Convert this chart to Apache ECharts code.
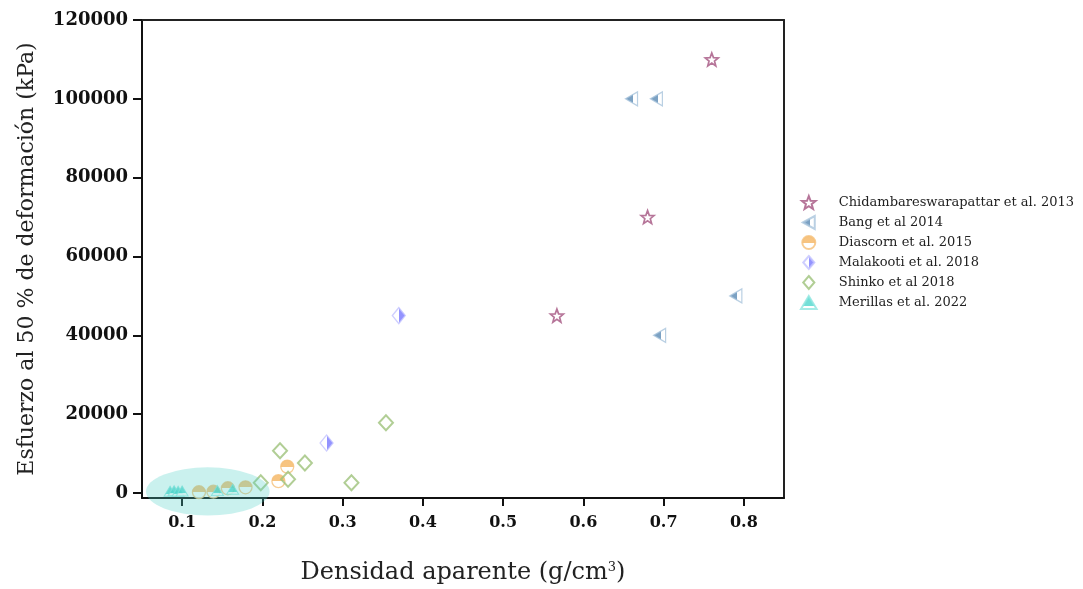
<!DOCTYPE html>
<html><head><meta charset="utf-8">
<script src="https://cdn.jsdelivr.net/npm/echarts@6/dist/echarts.min.js"></script>
<style>html,body{margin:0;padding:0;background:#fff}#c{width:1083px;height:589px}</style>
</head><body><div id="c"></div>
<script>
// ---- data ----
const seriesNames = ['Chidambareswarapattar et al. 2013','Bang et al 2014','Diascorn et al. 2015','Malakooti et al. 2018','Shinko et al 2018','Merillas et al. 2022'];
const chidX = [0.76, 0.68, 0.567];
const chidY = [110000, 70000, 45000];
const bangX = [0.66, 0.691, 0.79, 0.695];
const bangY = [100000, 100000, 50000, 40000];
const diasX = [0.121, 0.139, 0.157, 0.179, 0.22, 0.231];
const diasY = [200, 330, 1200, 1450, 3000, 6700];
const malaX = [0.28, 0.37];
const malaY = [12700, 45000];
const shinX = [0.222, 0.253, 0.232, 0.198, 0.311, 0.354];
const shinY = [10700, 7600, 3500, 2600, 2600, 17800];
const merX = [0.085, 0.09, 0.095, 0.1, 0.144, 0.163];
const merY = [450, 550, 450, 500, 600, 950];
const xTicks = [0.1, 0.2, 0.3, 0.4, 0.5, 0.6, 0.7, 0.8];
const yTicks = [0, 20000, 40000, 60000, 80000, 100000, 120000];
// highlighted region (data units): centre x, centre y, radius x, radius y
const hlCenter = [0.132, 400];
const hlRadius = [0.077, 6100];

const zip = (xs, ys) => xs.map((x, i) => [x, ys[i]]);
const serif = 'DejaVu Serif';
const starPath = 'path://M10,0 L12.47,6.6 L19.51,6.91 L13.99,11.3 L15.88,18.09 L10,14.2 L4.12,18.09 L6.01,11.3 L0.49,6.91 L7.53,6.6 Z';
const leftTri = 'path://M0,6 L11,0 L11,12 Z';
const diamondPath = 'path://M6,0 L12,7 L6,14 L0,7 Z';
const triPath = 'path://M6,0 L12,10 L0,10 Z';
function split(c1, c2, horiz, at) {
  return {type:'linear', x:0, y:0, x2: horiz?1:0, y2: horiz?0:1,
    colorStops:[{offset:0,color:c1},{offset:at,color:c1},{offset:at,color:c2},{offset:1,color:c2}]};
}

const chart = echarts.init(document.getElementById('c'), null, {renderer:'canvas'});
const option = {
  animation: false,
  backgroundColor: '#fff',
  grid: {left:142, top:20, right:299, bottom:91, containLabel:false, outerBoundsMode:'none'},
  legend: {
    data: seriesNames, orient:'vertical', left:795, top:190,
    itemWidth:50, itemHeight:13, itemGap:5, symbolKeepAspect:true,
    textStyle:{fontFamily:serif, fontSize:13, color:'#222'}
  },
  xAxis: [{
    type:'value', min:0.05, max:0.85, splitLine:{show:false},
    axisLine:{onZero:false, lineStyle:{color:'#111', width:2}},
    axisTick:{customValues:xTicks, length:8, lineStyle:{color:'#111', width:2}},
    axisLabel:{customValues:xTicks, formatter:v=>v.toFixed(1), fontFamily:serif, fontWeight:'bold', fontSize:16, color:'#111', margin:17},
    name:'{a|Densidad aparente (g/cm}{s|3}{a|)}', nameLocation:'middle', nameGap:63,
    nameTextStyle:{rich:{a:{fontFamily:serif, fontSize:24, color:'#222'}, s:{fontFamily:serif, fontSize:13, color:'#222', verticalAlign:'top'}}}
  },{
    type:'value', position:'top', min:0.05, max:0.85, splitLine:{show:false},
    axisLine:{onZero:false, lineStyle:{color:'#222', width:2}}, axisTick:{show:false}, axisLabel:{show:false}
  }],
  yAxis: [{
    type:'value', min:-1270, max:120000, splitLine:{show:false},
    axisLine:{onZero:false, lineStyle:{color:'#111', width:2}},
    axisTick:{customValues:yTicks, length:9, lineStyle:{color:'#111', width:2}},
    axisLabel:{customValues:yTicks, formatter:v=>String(v), fontFamily:serif, fontWeight:'bold', fontSize:18, color:'#111', margin:14},
    name:'Esfuerzo al 50 % de deformación (kPa)', nameLocation:'middle', nameGap:104,
    nameTextStyle:{fontFamily:serif, fontSize:22, color:'#222'}
  },{
    type:'value', position:'right', min:-1270, max:120000, splitLine:{show:false},
    axisLine:{onZero:false, lineStyle:{color:'#222', width:2}}, axisTick:{show:false}, axisLabel:{show:false}
  }],
  series: [
    {name:seriesNames[0], type:'scatter', data:zip(chidX, chidY), symbol:starPath, symbolSize:13,
     itemStyle:{color:'#fff', borderColor:'#a4527f', borderWidth:1.7}},
    {name:seriesNames[1], type:'scatter', data:zip(bangX, bangY), symbol:leftTri, symbolSize:[12,14],
     itemStyle:{color:split('#5b8ab4','#ffffff',true,0.62), borderColor:'#a9c4dc', borderWidth:1.3}},
    {name:seriesNames[2], type:'scatter', data:zip(diasX, diasY), symbol:'circle', symbolSize:13,
     itemStyle:{color:split('#f5b561','#ffffff',false,0.5), borderColor:'#f5bf78', borderWidth:1.3}},
    {name:seriesNames[3], type:'scatter', data:zip(malaX, malaY), symbol:diamondPath, symbolSize:[13,16],
     itemStyle:{color:split('#ffffff','#7878ff',true,0.5), borderColor:'#c3c3ff', borderWidth:1.3}},
    {name:seriesNames[4], type:'scatter', data:zip(shinX, shinY), symbol:diamondPath, symbolSize:[14,15],
     itemStyle:{color:'rgba(255,255,255,0)', borderColor:'#9dc27b', borderWidth:2}},
    {name:seriesNames[5], type:'scatter', data:zip(merX, merY), symbol:triPath, symbolSize:[12,10],
     itemStyle:{color:split('#4fd7cd','#ffffff',false,0.72), borderColor:'#8fe6e0', borderWidth:1}},
    {type:'custom', silent:true, clip:false, z:10, data:[[hlCenter[0], hlCenter[1]]],
     renderItem:(params, api) => {
       const c = api.coord([api.value(0), api.value(1)]);
       const s = api.size([hlRadius[0], hlRadius[1]]);
       return {type:'circle', shape:{cx:0, cy:0, r:1}, x:c[0], y:c[1], scaleX:s[0], scaleY:s[1],
               style:{fill:'rgba(80,210,200,0.3)'}};
     }}
  ]
};
chart.setOption(option);
</script></body></html>
